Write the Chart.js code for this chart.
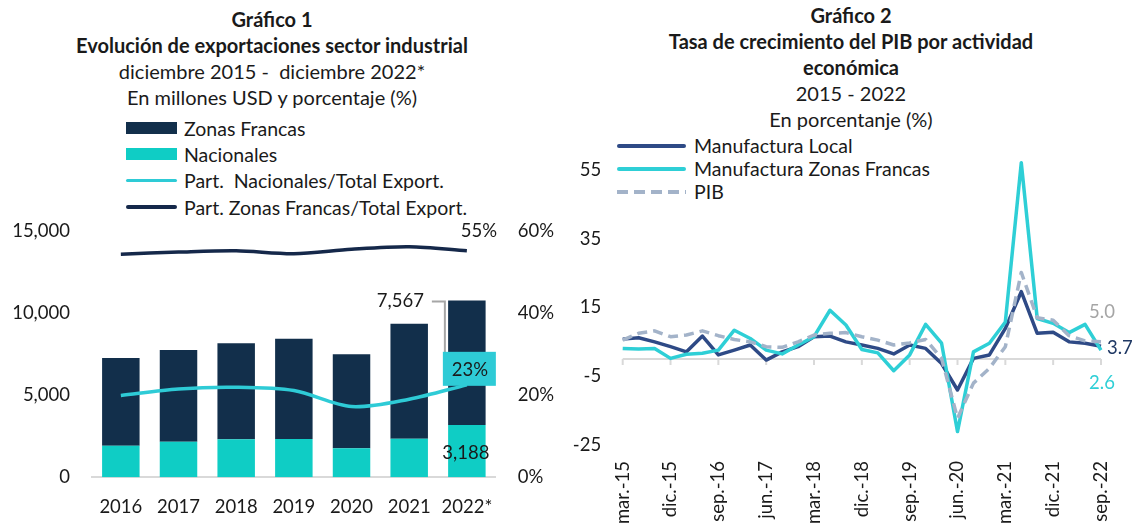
<!DOCTYPE html>
<html lang="es">
<head>
  <meta charset="UTF-8" />
  <title>Gráficos 1 y 2</title>
  <script src="https://cdn.jsdelivr.net/npm/chart.js"></script>
  <style>
    body { margin: 0; width: 1137px; height: 524px; overflow: hidden; position: relative; background: #fff;
           font-family: Lato, "Open Sans", sans-serif; color: #1a1a1a; }
    .title { position: absolute; text-align: center; font-size: 20px; line-height: 26px; white-space: nowrap; transform: translateX(-50%); }
    .legend { position: absolute; font-size: 19.5px; white-space: pre; }
    .legend .row { display: flex; align-items: center; }
    .sw { display: inline-block; flex: none; }
    canvas { position: absolute; }
  </style>
</head>
<body>
  <div class="title" style="left:272px; top:6px;">
    <b>Gráfico 1</b><br>
    <b>Evolución de exportaciones sector industrial</b><br>
    diciembre 2015 -&nbsp; diciembre 2022*<br>
    En millones USD y porcentaje (%)
  </div>
  <div class="legend" id="legend1" style="left:126px; top:115px;"></div>
  <canvas id="chart1" width="560" height="309" style="left:0; top:215px;"></canvas>

  <div class="title" style="left:851px; top:2px;">
    <b>Gráfico 2</b><br>
    <b>Tasa de crecimiento del PIB por actividad</b><br>
    <b>económica</b><br>
    2015 - 2022<br>
    En porcentanje (%)
  </div>
  <div class="legend" id="legend2" style="left:617px; top:134px;"></div>
  <canvas id="chart2" width="577" height="400" style="left:560px; top:140px;"></canvas>

  <script>
    // Gráfico 1
    const years = ['2016', '2017', '2018', '2019', '2020', '2021', '2022*'];
    const nacionales = [1920, 2170, 2310, 2330, 1760, 2350, 3188];
    const zonasFrancas = [5340, 5570, 5840, 6100, 5720, 6990, 7567];
    const partNacionales = [19.9, 21.5, 21.9, 21.1, 17.2, 19.0, 22.5];
    const partZonasFrancas = [54.3, 54.8, 55.1, 54.4, 55.5, 56.1, 55.1];
    const leftTicks = [0, 5000, 10000, 15000];
    const rightTicks = [0, 20, 40, 60];

    // Gráfico 2
    const quarters = [
      'mar.-15', 'jun.-15', 'sep.-15', 'dic.-15',
      'mar.-16', 'jun.-16', 'sep.-16', 'dic.-16',
      'mar.-17', 'jun.-17', 'sep.-17', 'dic.-17',
      'mar.-18', 'jun.-18', 'sep.-18', 'dic.-18',
      'mar.-19', 'jun.-19', 'sep.-19', 'dic.-19',
      'mar.-20', 'jun.-20', 'sep.-20', 'dic.-20',
      'mar.-21', 'jun.-21', 'sep.-21', 'dic.-21',
      'mar.-22', 'jun.-22', 'sep.-22'
    ];
    const manufLocal = [5.8, 6.2, 5.0, 3.6, 2.1, 6.7, 1.2, 2.6, 4.1, -0.3, 2.1, 3.6, 6.5, 6.7, 5.0, 4.1,
                        3.1, 1.5, 4.1, 3.1, -1.3, -9.0, 0.2, 1.2, 8.9, 19.6, 7.5, 7.8, 5.0, 4.6, 3.7];
    const manufZF = [3.1, 2.9, 3.1, 0.2, 1.4, 1.7, 2.6, 8.4, 6.0, 2.6, 1.5, 4.1, 6.5, 14.2, 9.9, 2.8,
                     1.8, -3.4, 1.2, 10.1, 4.6, -21.1, 2.1, 4.6, 10.8, 57.1, 11.8, 10.4, 7.7, 10.1, 2.6];
    const pib = [5.5, 7.5, 8.2, 6.5, 7.0, 8.2, 6.8, 5.7, 5.0, 3.6, 3.4, 5.0, 7.0, 7.5, 7.7, 6.5,
                 5.5, 4.1, 4.7, 5.7, 0.2, -17.2, -7.0, -2.7, 3.6, 25.2, 12.0, 11.3, 6.8, 5.3, 5.0];
    const growthTicks = [-25, -5, 15, 35, 55];

    const navy = '#122f4b';
    const teal = '#0fcdc5';
    const tealLine = '#2ecbd6';
    const navyLine = '#15284a';
    const localBlue = '#2e4a86';
    const zfTeal = '#2ecfd6';
    const pibGray = '#a3b3c9';
    const axisGray = '#d9d9d9';
    const textColor = '#1a1a1a';
    const font18 = { family: 'Lato', size: 18.5 };

    Chart.defaults.font.family = 'Lato';
    Chart.defaults.color = textColor;

    // leyendas en HTML
    function legendRow(container, swatchStyle, label, rowHeight, gap) {
      const row = document.createElement('div');
      row.className = 'row';
      row.style.height = rowHeight + 'px';
      const sw = document.createElement('span');
      sw.className = 'sw';
      sw.style.cssText += swatchStyle + ';margin-right:' + gap + 'px';
      const txt = document.createElement('span');
      txt.textContent = label;
      row.appendChild(sw);
      row.appendChild(txt);
      container.appendChild(row);
    }
    const lg1 = document.getElementById('legend1');
    legendRow(lg1, `width:51px;height:12px;background:${navy}`, 'Zonas Francas', 26.3, 7);
    legendRow(lg1, `width:51px;height:12px;background:${teal}`, 'Nacionales', 26.3, 7);
    legendRow(lg1, `width:51px;height:3.5px;border-radius:2px;background:${tealLine}`, 'Part.  Nacionales/Total Export.', 26.3, 7);
    legendRow(lg1, `width:51px;height:3.5px;border-radius:2px;background:${navyLine}`, 'Part. Zonas Francas/Total Export.', 26.3, 7);

    const lg2 = document.getElementById('legend2');
    legendRow(lg2, `width:69px;height:4px;border-radius:2px;background:${localBlue}`, 'Manufactura Local', 23, 8);
    legendRow(lg2, `width:69px;height:4px;border-radius:2px;background:${zfTeal}`, 'Manufactura Zonas Francas', 23, 8);
    legendRow(lg2, `width:69px;height:4px;background:repeating-linear-gradient(90deg, ${pibGray} 0 11px, transparent 11px 17px)`, 'PIB', 23, 8);

    const fmt = v => v.toLocaleString('en-US');

    // tamaño fijo de ejes, sin relleno automático
    const fixAxis = (w, h) => s => {
      if (w != null) s.width = w;
      if (h != null) s.height = h;
      s.paddingTop = s.paddingBottom = s.paddingLeft = s.paddingRight = 0;
    };

    // anotaciones del gráfico 1
    const annot1 = {
      id: 'annot1',
      afterDatasetsDraw(chart) {
        const { ctx, scales: { x, y, y1 } } = chart;
        const n = years.length - 1;
        const xc = x.getPixelForValue(n);
        const total = nacionales[n] + zonasFrancas[n];
        const yTop = y.getPixelForValue(total);
        const yNac = y1.getPixelForValue(partNacionales[n]);
        const yZf = y1.getPixelForValue(partZonasFrancas[n]);
        ctx.save();
        ctx.font = '18.5px Lato';
        ctx.textBaseline = 'middle';
        // linea guia 7,567
        ctx.strokeStyle = '#a6a6a6';
        ctx.lineWidth = 2;
        ctx.beginPath();
        ctx.moveTo(xc - 35, yTop + 1);
        ctx.lineTo(xc - 22, yTop + 1);
        ctx.lineTo(xc - 22, yNac - 20);
        ctx.stroke();
        ctx.fillStyle = textColor;
        ctx.textAlign = 'right';
        ctx.fillText(fmt(zonasFrancas[n]), xc - 43, yTop + 1);
        // caja 23%
        ctx.fillStyle = tealLine;
        ctx.fillRect(xc - 24, yNac - 33, 53, 34);
        ctx.fillStyle = textColor;
        ctx.textAlign = 'center';
        ctx.fillText(Math.round(partNacionales[n]) + '%', xc + 3, yNac - 15);
        // 3,188
        ctx.fillText(fmt(nacionales[n]), xc - 1, y.getPixelForValue(nacionales[n] / 2) + 2);
        // 55%
        ctx.fillText(Math.round(partZonasFrancas[n]) + '%', xc + 12, yZf - 20);
        ctx.restore();
      }
    };

    new Chart(document.getElementById('chart1'), {
      type: 'bar',
      data: {
        labels: years,
        datasets: [
          { label: 'Nacionales', data: nacionales, backgroundColor: teal, stack: 's', order: 3,
            barPercentage: 0.65, categoryPercentage: 1 },
          { label: 'Zonas Francas', data: zonasFrancas, backgroundColor: navy, stack: 's', order: 3,
            barPercentage: 0.65, categoryPercentage: 1 },
          { type: 'line', label: 'Part.  Nacionales/Total Export.', data: partNacionales, yAxisID: 'y1',
            borderColor: tealLine, borderWidth: 3.5, pointRadius: 0, tension: 0.3, order: 1 },
          { type: 'line', label: 'Part. Zonas Francas/Total Export.', data: partZonasFrancas, yAxisID: 'y1',
            borderColor: navyLine, borderWidth: 3.5, pointRadius: 0, tension: 0.3, order: 1 }
        ]
      },
      options: {
        responsive: false,
        devicePixelRatio: 1,
        animation: false,
        layout: { padding: { top: 15.7, bottom: 0, left: 0, right: 0 } },
        plugins: { legend: { display: false }, tooltip: { enabled: false } },
        scales: {
          x: {
            stacked: true,
            grid: { display: false },
            border: { color: axisGray, width: 2 },
            ticks: { font: font18, color: textColor, padding: 11 },
            afterFit: fixAxis(null, 46.7)
          },
          y: {
            stacked: true, min: 0, max: 15000,
            grid: { display: false }, border: { display: false },
            afterBuildTicks: a => { a.ticks = leftTicks.map(v => ({ value: v })); },
            ticks: { font: font18, color: textColor, padding: 14, callback: v => fmt(v) },
            afterFit: fixAxis(92, null)
          },
          y1: {
            position: 'right', min: 0, max: 60,
            grid: { display: false }, border: { display: false },
            afterBuildTicks: a => { a.ticks = rightTicks.map(v => ({ value: v })); },
            ticks: { font: font18, color: textColor, padding: 14, callback: v => v + '%' },
            afterFit: fixAxis(64.3, null)
          }
        }
      },
      plugins: [annot1]
    });

    // linea de cero y etiquetas finales del gráfico 2
    const zeroLine = {
      id: 'zeroLine',
      beforeDatasetsDraw(chart) {
        const { ctx, chartArea, scales: { x, y } } = chart;
        const y0 = y.getPixelForValue(0);
        ctx.save();
        ctx.strokeStyle = axisGray;
        ctx.lineWidth = 2;
        ctx.beginPath();
        ctx.moveTo(chartArea.left, y0);
        ctx.lineTo(chartArea.right, y0);
        quarters.forEach((q, i) => {
          if (i % 3 === 0) {
            const px = x.getPixelForValue(i);
            ctx.moveTo(px, y0);
            ctx.lineTo(px, y0 + 6);
          }
        });
        ctx.stroke();
        ctx.restore();
      }
    };
    const endLabels = {
      id: 'endLabels',
      afterDatasetsDraw(chart) {
        const { ctx, scales: { x, y } } = chart;
        const n = quarters.length - 1;
        const px = x.getPixelForValue(n);
        ctx.save();
        ctx.font = '18.5px Lato';
        ctx.textBaseline = 'middle';
        ctx.textAlign = 'center';
        ctx.fillStyle = '#a5a5a5';
        ctx.fillText(pib[n].toFixed(1), px + 1, y.getPixelForValue(pib[n]) - 30);
        ctx.fillStyle = zfTeal;
        ctx.fillText(manufZF[n].toFixed(1), px + 1, y.getPixelForValue(manufZF[n]) + 33);
        ctx.fillStyle = '#1f3864';
        ctx.textAlign = 'left';
        ctx.fillText(manufLocal[n].toFixed(1), px + 6, y.getPixelForValue(manufLocal[n]) + 2);
        ctx.restore();
      }
    };

    new Chart(document.getElementById('chart2'), {
      type: 'line',
      data: {
        labels: quarters,
        datasets: [
          { label: 'Manufactura Local', data: manufLocal, borderColor: localBlue, borderWidth: 3.5,
            borderJoinStyle: 'round', pointRadius: 0, tension: 0, order: 3 },
          { label: 'Manufactura Zonas Francas', data: manufZF, borderColor: zfTeal, borderWidth: 3.5,
            borderJoinStyle: 'round', pointRadius: 0, tension: 0, order: 2 },
          { label: 'PIB', data: pib, borderColor: pibGray, borderWidth: 3.5, borderDash: [10, 6],
            borderJoinStyle: 'round', pointRadius: 0, tension: 0, order: 1 }
        ]
      },
      options: {
        responsive: false,
        devicePixelRatio: 1,
        animation: false,
        layout: { padding: { top: 12.8, right: 36, left: 0, bottom: 0 } },
        plugins: { legend: { display: false }, tooltip: { enabled: false } },
        scales: {
          x: {
            grid: { display: false }, border: { display: false },
            ticks: {
              font: font18, color: textColor, padding: 8, autoSkip: false,
              minRotation: 90, maxRotation: 90,
              callback: (v, i) => (i % 3 === 0 ? quarters[i] : '')
            },
            afterFit: fixAxis(null, 95)
          },
          y: {
            min: -25, max: 60,
            grid: { display: false }, border: { display: false },
            afterBuildTicks: a => { a.ticks = growthTicks.map(v => ({ value: v })); },
            ticks: { font: font18, color: textColor, padding: 13.5 },
            afterFit: fixAxis(62.7, null)
          }
        }
      },
      plugins: [zeroLine, endLabels]
    });
  </script>
</body>
</html>
